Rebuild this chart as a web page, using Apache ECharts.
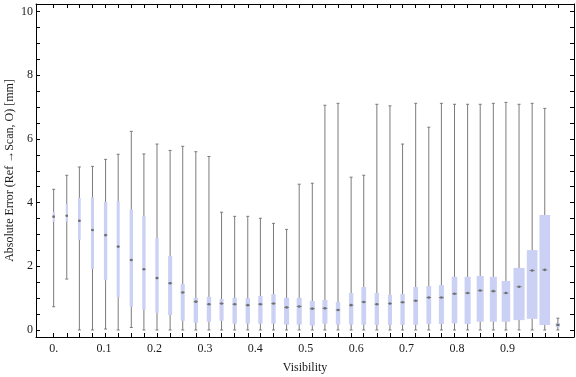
<!DOCTYPE html>
<html>
<head>
<meta charset="utf-8">
<script src="https://cdn.jsdelivr.net/npm/echarts@6/dist/echarts.min.js"></script>
<style>
  html, body { margin: 0; padding: 0; background: #fff; }
  #chart { width: 576px; height: 377px; }
</style>
</head>
<body>
<div id="chart"></div>
<script>
// bin centres on the visibility axis
var visibility = [0, 0.026, 0.051, 0.077, 0.103, 0.128, 0.154, 0.179, 0.205, 0.231,
  0.256, 0.282, 0.308, 0.333, 0.359, 0.385, 0.410, 0.436, 0.462, 0.487,
  0.513, 0.538, 0.564, 0.590, 0.615, 0.641, 0.667, 0.692, 0.718, 0.744,
  0.769, 0.795, 0.821, 0.846, 0.872, 0.897, 0.923, 0.949, 0.974, 1.000];

// box-whisker stats, absolute error in mm
var whiskerLow = [0.73, 1.60, 0, 0, 0.03, 0, 0.08, 0, 0, 0,
  0, 0, 0, 0, 0, 0, 0, 0, 0, 0,
  0, 0, 0, 0, 0, 0, 0, 0, 0, 0,
  0, 0, 0, 0, 0, 0, 0, 0, 0, 0];
var q1 = [3.40, 3.40, 2.83, 1.92, 1.56, 1.02, 0.73, 0.63, 0.54, 0.47,
  0.29, 0.23, 0.26, 0.29, 0.20, 0.20, 0.20, 0.20, 0.17, 0.17,
  0.14, 0.20, 0.17, 0.17, 0.17, 0.16, 0.16, 0.16, 0.16, 0.19,
  0.19, 0.21, 0.19, 0.26, 0.26, 0.26, 0.31, 0.35, 0.16, 0.09];
var median = [3.56, 3.59, 3.43, 3.14, 2.98, 2.62, 2.20, 1.91, 1.63, 1.47,
  1.18, 0.89, 0.81, 0.83, 0.81, 0.78, 0.81, 0.83, 0.71, 0.74,
  0.67, 0.68, 0.63, 0.78, 0.88, 0.81, 0.83, 0.87, 0.92, 1.02,
  1.02, 1.14, 1.16, 1.24, 1.22, 1.16, 1.36, 1.87, 1.89, 0.16];
var q3 = [3.71, 3.96, 4.15, 4.17, 4.02, 4.04, 3.79, 3.58, 2.89, 2.33,
  1.45, 1.01, 1.04, 0.97, 1.01, 1.00, 1.07, 1.13, 1.01, 1.01,
  0.91, 0.94, 0.88, 1.16, 1.35, 1.16, 1.10, 1.13, 1.35, 1.38,
  1.41, 1.67, 1.67, 1.70, 1.67, 1.54, 1.95, 2.51, 3.61, 0.22];
var whiskerHigh = [4.42, 4.86, 5.12, 5.14, 5.36, 5.52, 6.24, 5.53, 5.84, 5.64,
  5.77, 5.60, 5.45, 3.70, 3.57, 3.57, 3.51, 3.35, 3.16, 4.58,
  4.61, 7.06, 7.12, 4.80, 4.86, 7.09, 7.04, 5.84, 7.12, 6.37,
  7.12, 7.09, 7.09, 7.09, 7.12, 7.15, 7.09, 7.12, 6.96, 0.37];
// relative bin weight (box width follows it)
var binWeight = [2, 2, 2.7, 3, 3.3, 3, 3.3, 3.3, 3.3, 4,
  4, 4.3, 4.3, 4, 4.3, 4.3, 4.3, 4.3, 5, 5,
  5, 5, 4.3, 4.3, 4.7, 4.3, 4, 4.3, 4.7, 4.7,
  5, 5.5, 6, 7, 7, 8.5, 11, 10.5, 10.5, 4];

var xTickLabels = [0, 0.1, 0.2, 0.3, 0.4, 0.5, 0.6, 0.7, 0.8, 0.9];
var yTickLabels = [0, 2, 4, 6, 8, 10];
var yTicks = [];
for (var t = 0; t <= 10; t += 0.5) yTicks.push(t);

var data = visibility.map(function (v, i) {
  return [v, whiskerLow[i], q1[i], median[i], q3[i], whiskerHigh[i], binWeight[i]];
});

var font = '"Liberation Serif", "Times New Roman", serif';
var whiskerColor = '#7b7b7b';

function renderBox(params, api) {
  var x = api.value(0);
  var lo = api.coord([x, api.value(1)]);
  var b1 = api.coord([x, api.value(2)]);
  var md = api.coord([x, api.value(3)]);
  var b3 = api.coord([x, api.value(4)]);
  var hi = api.coord([x, api.value(5)]);
  var spacing = api.size([visibility[1] - visibility[0], 0])[0];
  var w = api.value(6) / 12.93 * spacing;
  var cx = lo[0];
  var cap = 1.5;
  var mw = Math.min(w, 5) / 2;
  var lineStyle = { stroke: whiskerColor, lineWidth: 1 };
  return {
    type: 'group',
    children: [
      { type: 'line', shape: { x1: cx, y1: lo[1], x2: cx, y2: hi[1] }, style: lineStyle },
      { type: 'line', shape: { x1: cx - cap, y1: lo[1], x2: cx + cap, y2: lo[1] }, style: lineStyle },
      { type: 'line', shape: { x1: cx - cap, y1: hi[1], x2: cx + cap, y2: hi[1] }, style: lineStyle },
      { type: 'rect', shape: { x: cx - w / 2, y: b3[1], width: w, height: b1[1] - b3[1] },
        style: { fill: '#cbd1f5' } },
      { type: 'line', shape: { x1: cx - mw, y1: md[1], x2: cx + mw, y2: md[1] },
        style: { stroke: '#8a8a8a', lineWidth: 1.2 } },
      { type: 'circle', shape: { cx: cx, cy: md[1], r: 1.3 }, style: { fill: '#6f6f6f' } }
    ]
  };
}

var chart = echarts.init(document.getElementById('chart'));
var frameLine = { show: true, onZero: false, lineStyle: { color: '#000', width: 1 } };
var tickIn = { show: true, inside: true, length: 4, lineStyle: { color: '#000', width: 1 } };

chart.setOption({
  animation: false,
  grid: { left: 36, top: 4, width: 538, height: 333, outerBoundsMode: 'none', containLabel: false },
  xAxis: [
    {
      type: 'value', position: 'bottom', min: -0.035, max: 1.032,
      axisLine: frameLine,
      axisTick: Object.assign({ customValues: visibility }, tickIn),
      axisLabel: {
        customValues: xTickLabels, margin: 6, color: '#1a1a1a', fontFamily: font, fontSize: 12,
        formatter: function (v) { return v === 0 ? '0.' : v.toFixed(1); }
      },
      splitLine: { show: false },
      name: 'Visibility', nameLocation: 'middle', nameGap: 25, nameMoveOverlap: false,
      nameTextStyle: { color: '#1a1a1a', fontFamily: font, fontSize: 12 }
    },
    {
      type: 'value', position: 'top', min: -0.035, max: 1.032,
      axisLine: frameLine,
      axisTick: Object.assign({ customValues: visibility }, tickIn),
      axisLabel: { show: false },
      splitLine: { show: false }
    }
  ],
  yAxis: [
    {
      type: 'value', position: 'left', min: -0.22, max: 10.24,
      axisLine: frameLine,
      axisTick: Object.assign({ customValues: yTicks }, tickIn),
      axisLabel: { customValues: yTickLabels, margin: 3, color: '#1a1a1a', fontFamily: font, fontSize: 12 },
      splitLine: { show: false },
      name: 'Absolute Error (Ref \u2192Scan, O) [mm]', nameLocation: 'middle', nameGap: 20,
      nameMoveOverlap: false,
      nameTextStyle: { color: '#1a1a1a', fontFamily: font, fontSize: 12 }
    },
    {
      type: 'value', position: 'right', min: -0.22, max: 10.24,
      axisLine: frameLine,
      axisTick: Object.assign({ customValues: yTicks }, tickIn),
      axisLabel: { show: false },
      splitLine: { show: false }
    }
  ],
  series: [{
    type: 'custom',
    xAxisIndex: 0,
    yAxisIndex: 0,
    renderItem: renderBox,
    data: data,
    clip: true
  }]
});
</script>
</body>
</html>
